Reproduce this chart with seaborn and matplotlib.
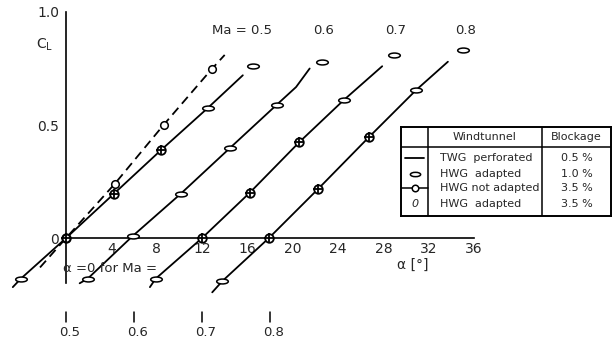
import numpy as np
import pandas as pd
import matplotlib
matplotlib.use('Agg')
import matplotlib.pyplot as plt
from matplotlib.path import Path
import seaborn as sns

sns.set_style('white')
plt.rcParams['font.family'] = ['DejaVu Sans']
plt.rcParams['mathtext.default'] = 'regular'

# Variables
mach_numbers = [0.5, 0.6, 0.7, 0.8]
alpha_shift = [0, 6, 12, 18]  # where alpha=0 sits on the axis for each Ma

# TWG perforated (0.5 %), solid curves, actual alpha [deg] / CL
twg_alpha = [
    [-4.7, -4.0, 0.0, 4.2, 8.4, 12.5, 15.6],
    [-4.8, -4.1, -0.1, 4.1, 8.5, 12.6, 14.3, 15.5],
    [-4.6, -4.1, 0.0, 4.2, 8.6, 12.5, 15.9],
    [-5.1, -4.2, -0.1, 4.2, 8.7, 12.9, 15.7],
]
twg_cl = [
    [-0.217, -0.18, 0.0, 0.195, 0.39, 0.575, 0.72],
    [-0.20, -0.18, 0.01, 0.195, 0.40, 0.59, 0.668, 0.75],
    [-0.217, -0.18, 0.0, 0.20, 0.425, 0.61, 0.76],
    [-0.24, -0.19, 0.0, 0.215, 0.445, 0.655, 0.78],
]

# HWG adapted, 1.0 % blockage (flat ellipse)
hwg10_alpha = [[-4.0, 12.5, 16.5], [-4.1, -0.1, 4.1, 8.5, 12.6, 16.6],
               [-4.1, 12.5, 16.9], [-4.2, 12.9, 17.0]]
hwg10_cl = [[-0.18, 0.575, 0.76], [-0.18, 0.01, 0.195, 0.40, 0.59, 0.78],
            [-0.18, 0.61, 0.81], [-0.19, 0.655, 0.83]]

# HWG adapted, 3.5 % blockage
hwg35_alpha = [[0.0, 4.2, 8.4], [], [0.0, 4.2, 8.6], [-0.1, 4.2, 8.7]]
hwg35_cl = [[0.0, 0.195, 0.39], [], [0.0, 0.20, 0.425], [0.0, 0.215, 0.445]]

# HWG not adapted, 3.5 % blockage (Ma = 0.5 only, dashed)
nad_line_alpha = [-2.3, 0.0, 4.3, 8.6, 12.9, 14.0]
nad_line_cl = [-0.13, 0.0, 0.24, 0.50, 0.75, 0.81]
nad_alpha = [0.0, 4.3, 8.6, 12.9]
nad_cl = [0.0, 0.24, 0.50, 0.75]

x_ticks = [4, 8, 12, 16, 20, 24, 28, 32, 36]


def build(alphas, cls):
    rows = []
    for i, ma in enumerate(mach_numbers):
        for a, c in zip(alphas[i], cls[i]):
            rows.append({'Ma': ma, 'x': a + alpha_shift[i], 'CL': c})
    return pd.DataFrame(rows, columns=['Ma', 'x', 'CL'])


twg = build(twg_alpha, twg_cl)
hwg10 = build(hwg10_alpha, hwg10_cl)
hwg35 = build(hwg35_alpha, hwg35_cl)
nad_line = pd.DataFrame({'x': nad_line_alpha, 'CL': nad_line_cl})
nad = pd.DataFrame({'x': nad_alpha, 'CL': nad_cl})

circ = Path.unit_circle()
flat_ellipse = Path(circ.vertices * [1.0, 0.42], circ.codes)

fig = plt.figure(figsize=(6.13, 3.45), dpi=100)
ax = fig.add_axes([0, 0, 1, 1])

for ma in mach_numbers:
    sub = twg[twg['Ma'] == ma]
    sns.lineplot(x=sub['x'].values, y=sub['CL'].values, sort=False,
                 estimator=None, color='black', lw=1.3, ax=ax, zorder=3,
                 clip_on=False)
sns.lineplot(x=nad_line['x'].values, y=nad_line['CL'].values, sort=False,
             estimator=None, color='black', lw=1.3, ax=ax,
             linestyle=(0, (5, 3)), zorder=3, clip_on=False)
sns.scatterplot(data=hwg10, x='x', y='CL', marker=flat_ellipse, s=70,
                facecolor='white', edgecolor='black', linewidth=1.1, ax=ax, zorder=4)
sns.scatterplot(data=hwg35, x='x', y='CL', marker='o', s=38,
                facecolor='white', edgecolor='black', linewidth=1.3, ax=ax, zorder=5)
sns.scatterplot(data=hwg35, x='x', y='CL', marker='+', s=55,
                color='black', linewidth=1.3, ax=ax, zorder=6)
sns.scatterplot(data=nad, x='x', y='CL', marker='o', s=30,
                facecolor='white', edgecolor='black', linewidth=1.1, ax=ax, zorder=5)

ax.set_xlim(-5.83, 48.27)
ax.set_ylim(-0.473, 1.053)

for s in ['top', 'right']:
    ax.spines[s].set_visible(False)
ax.spines['left'].set_position(('data', 0))
ax.spines['bottom'].set_position(('data', 0))
ax.spines['left'].set_bounds(-0.2, 1.0)
ax.spines['bottom'].set_bounds(0, 36)
for s in ['left', 'bottom']:
    ax.spines[s].set_linewidth(1.2)
    ax.spines[s].set_color('black')

ax.set_xticks(x_ticks)
ax.set_xticklabels([str(t) for t in x_ticks])
ax.set_yticks([0, 0.5, 1.0])
ax.set_yticklabels(['0', '0.5', '1.0'])
ax.tick_params(axis='x', direction='in', length=4, width=1, pad=3, labelsize=10)
ax.tick_params(axis='y', direction='inout', length=6, width=1, pad=2, labelsize=10)
ax.set_xlabel('')
ax.set_ylabel('')

ax.text(-1.85, 0.854, 'C$_L$', ha='center', va='center', fontsize=10)
ax.text(30.6, -0.12, 'α [°]', ha='center', va='center', fontsize=10)

# Mach labels at top of each curve
ax.text(15.5, 0.916, 'Ma = 0.5', ha='center', va='center', fontsize=9.5)
for lab, xm in zip(['0.6', '0.7', '0.8'], [22.7, 29.1, 35.3]):
    ax.text(xm, 0.92, lab, ha='center', va='center', fontsize=9.5)

# alpha = 0 markers below the axis
ax.text(-0.3, -0.133, 'α =0 for Ma =', ha='left', va='center', fontsize=9.5)
for ma, sh in zip(mach_numbers, alpha_shift):
    ax.plot([sh, sh], [-0.327, -0.372], color='black', lw=1.1)
    ax.text(sh + 0.35, -0.416, str(ma), ha='center', va='center', fontsize=9.5)

# legend table
lg = fig.add_axes([401 / 613, 1 - 216 / 345, 210 / 613, 89 / 345])
lg.set_xlim(0, 1)
lg.set_ylim(0, 1)
lg.set_xticks([])
lg.set_yticks([])
for s in lg.spines.values():
    s.set_linewidth(1.4)
    s.set_color('black')
c1, c2 = 0.128, 0.672
lg.axvline(c1, color='black', lw=1.1)
lg.axvline(c2, color='black', lw=1.1)
lg.axhline(0.775, color='black', lw=1.1)
fs = 8
lg.text((c1 + c2) / 2, 0.885, 'Windtunnel', ha='center', va='center', fontsize=fs)
lg.text((c2 + 1) / 2, 0.885, 'Blockage', ha='center', va='center', fontsize=fs)
row_y = [0.655, 0.475, 0.31, 0.14]
tunnels = ['TWG  perforated', 'HWG  adapted', 'HWG not adapted', 'HWG  adapted']
blockage = ['0.5 %', '1.0 %', '3.5 %', '3.5 %']
for y, t, b in zip(row_y, tunnels, blockage):
    lg.text(c1 + 0.06, y, t, ha='left', va='center', fontsize=fs)
    lg.text((c2 + 1) / 2, y, b, ha='center', va='center', fontsize=fs)
lg.plot([0.02, 0.11], [row_y[0], row_y[0]], color='black', lw=1.3)
lg.scatter([0.065], [row_y[1]], marker=flat_ellipse, s=55, facecolor='white',
           edgecolor='black', linewidth=1.1)
lg.plot([0.0, 0.128], [row_y[2], row_y[2]], color='black', lw=1.1)
lg.scatter([0.065], [row_y[2]], marker='o', s=22, facecolor='white',
           edgecolor='black', linewidth=1.1, zorder=3)
lg.text(0.065, row_y[3], '0', ha='center', va='center', fontsize=fs,
        style='italic')

fig.savefig('out.png', dpi=100)
